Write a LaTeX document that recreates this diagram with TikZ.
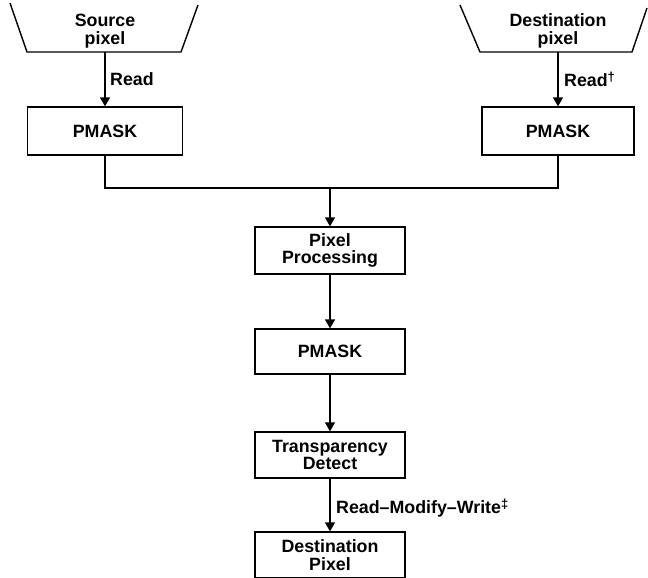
\documentclass[tikz,border=0pt]{standalone}
\usepackage{fontspec}
\setmainfont{Liberation Sans}
\usetikzlibrary{arrows.meta,positioning,calc}
\newcommand{\supmark}[1]{\raisebox{0.55ex}{\fontsize{13}{13}\selectfont #1}}
\tikzset{
  box/.style={draw, line width=1.3pt, minimum width=152pt, inner sep=0pt, align=center, font=\bfseries\fontsize{17.8}{17.5}\selectfont},
  lbl/.style={inner sep=0pt, align=center, font=\bfseries\fontsize{17.8}{17.5}\selectfont},
  conn/.style={line width=1.4pt},
  arr/.style={line width=1.4pt, -{Triangle[width=10pt,length=9pt]}},
}
\begin{document}
\begin{tikzpicture}[x=1pt,y=1pt]
\useasboundingbox (0,0) rectangle (648,-578);
% source trapezoid
\draw[conn] (10,-3) -- (27,-52) -- (181,-52) -- (198,-5);
\node[lbl] (src) at (105,-31) {Source\\pixel};
\coordinate (srcb) at (105,-52);
% destination trapezoid
\draw[conn] (460,-5) -- (480,-52) -- (632,-52) -- (647,-8);
\node[lbl] (dst) at (558,-31) {Destination\\pixel};
\coordinate (dstb) at (558,-52);
% boxes
\node[box, minimum width=155pt, minimum height=48pt] (p1) at (105,-131) {PMASK};
\node[box, minimum width=152pt, minimum height=48pt] (p2) at (558,-131) {PMASK};
\node[box, minimum width=150pt, minimum height=47pt] (pp) at (330,-250.5) {Pixel\\Processing};
\node[box, minimum width=150pt, minimum height=45pt] (p3) at (330,-351.5) {PMASK};
\node[box, minimum width=150pt, minimum height=46pt] (td) at (330,-455) {Transparency\\Detect};
\node[box, minimum width=150pt, minimum height=46pt] (dp) at (330,-555) {Destination\\Pixel};
\coordinate (j) at (330,-188);
% connectors
\draw[arr] (srcb) -- (p1.north);
\draw[arr] (dstb) -- (p2.north);
\draw[conn] (p1.south) -- (p1.south |- j) -- (p2.south |- j) -- (p2.south);
\draw[arr] (j) -- (pp.north);
\draw[arr] (pp.south) -- (p3.north);
\draw[arr] (p3.south) -- (td.north);
\draw[arr] (td.south) -- (dp.north);
% labels
\node[lbl, anchor=west] (r1) at (110,-79) {Read};
\node[lbl, anchor=west] (r2) at (564,-79) {Read\supmark{†}};
\node[lbl, anchor=west] (rmw) at (336,-508) {Read–Modify–Write\supmark{‡}};
\end{tikzpicture}
\end{document}
